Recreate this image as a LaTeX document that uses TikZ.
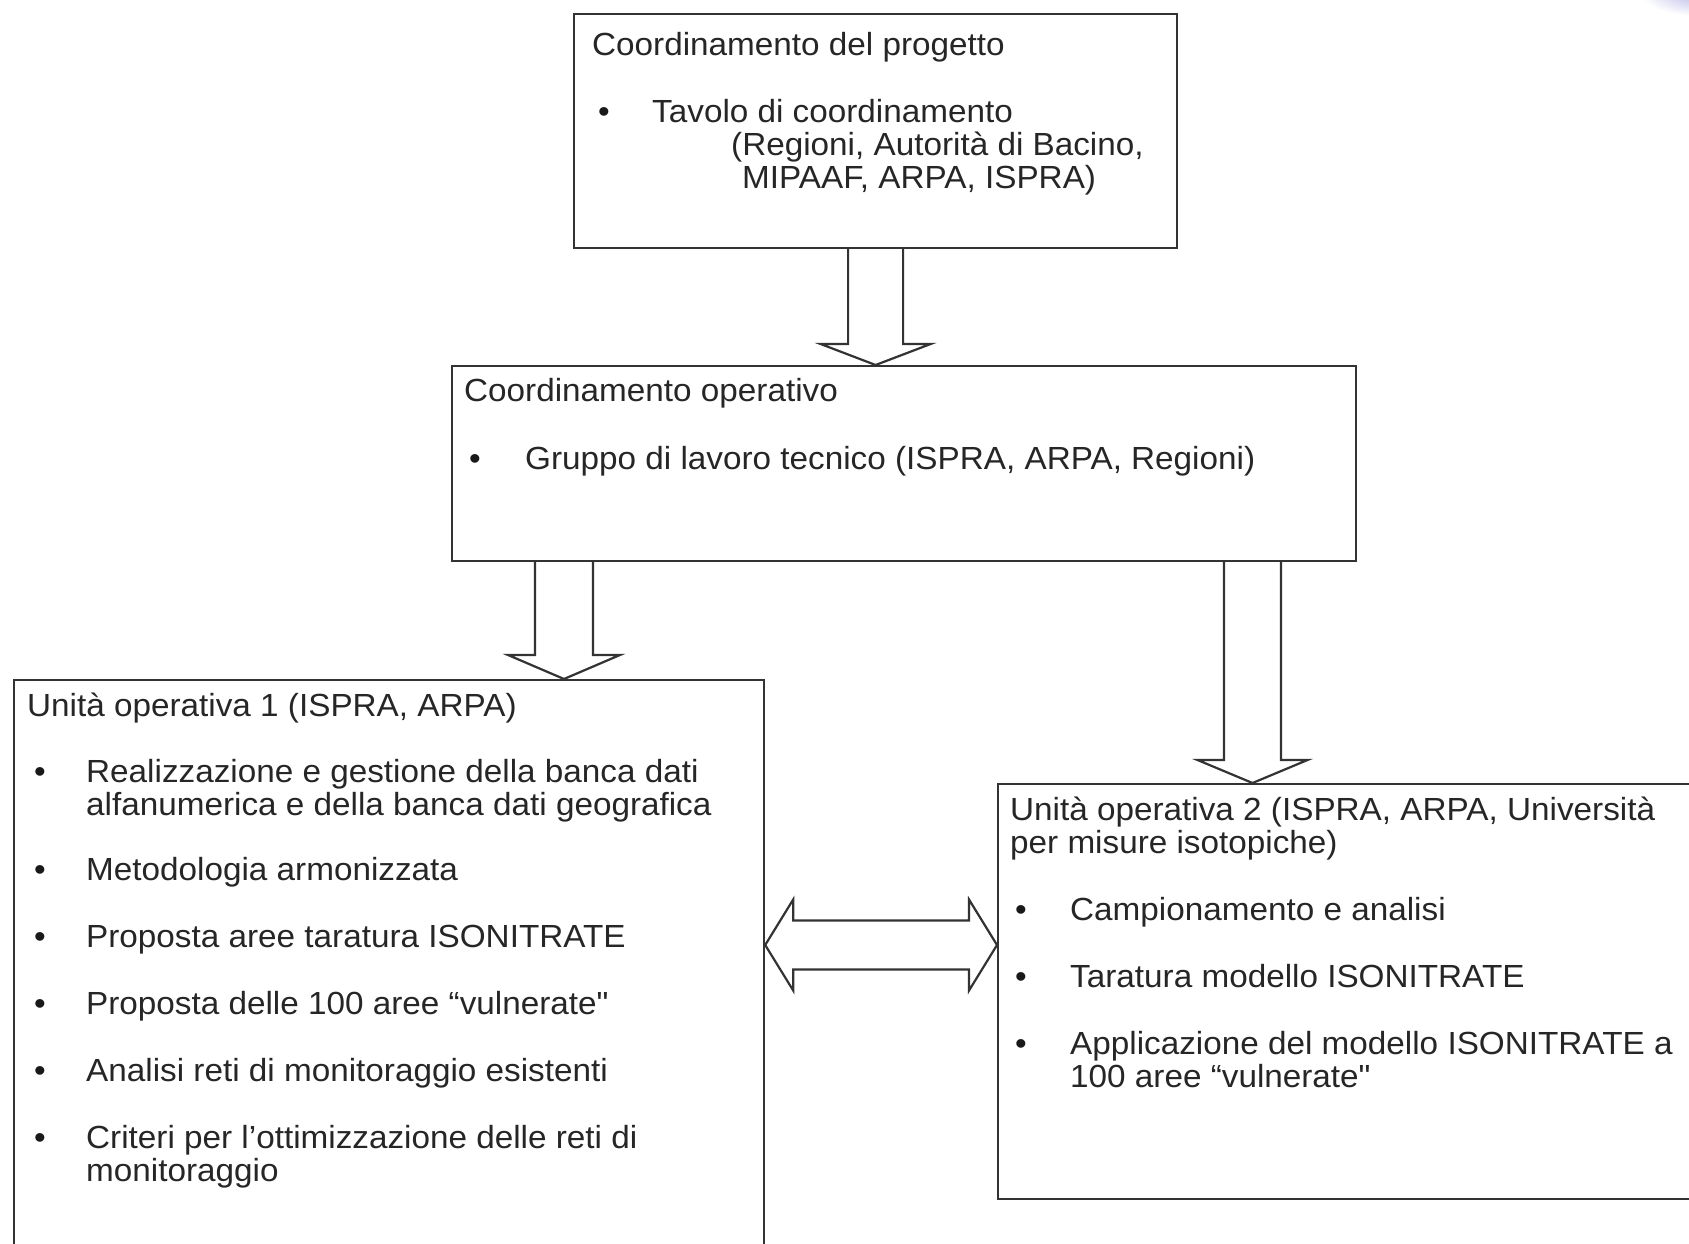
\documentclass[tikz,border=0pt]{standalone}
\usepackage{fontspec}
\setmainfont{Liberation Sans}[Ligatures=TeXOff, FakeStretch=1.04]
\usetikzlibrary{calc}
\newcommand\dgfs{\fontsize{32}{33.4}\selectfont}
\begin{document}
\begin{tikzpicture}[x=1pt,y=-1pt,
  box/.style={draw=black!80, line width=2.2pt, inner sep=0pt, anchor=north west},
  barrow/.style={draw=black!80, line width=2.2pt, line join=miter},
  txt/.style={anchor=base west, inner sep=0pt, text=black!85, font=\dgfs},
  bul/.style={anchor=base west, inner sep=0pt, text=black!90, font=\dgfs}]
\useasboundingbox (0,0) rectangle (1689,1243);
\clip (0,0) rectangle (1689,1243);
\fill[white] (0,0) rectangle (1689,1243);
\shade[inner color=black!35!blue!30, outer color=white] (1700,-8) ellipse (60 and 24);

% boxes
\node[box, minimum width=603pt, minimum height=234pt] (top) at (573,13) {};
\node[box, minimum width=904pt, minimum height=195pt] (mid) at (451,365) {};
\node[box, minimum width=750pt, minimum height=640pt] (u1) at (13,679) {};
\node[box, minimum width=740pt, minimum height=415pt] (u2) at (997,783) {};

% block arrows
\draw[barrow] let \p1=(top.south), \p2=(mid.north) in
  (\x1-27.5pt,\y1) -- (\x1-27.5pt,\y2+21pt) -- (\x1-55pt,\y2+21pt) -- (\x1,\y2)
  -- (\x1+55pt,\y2+21pt) -- (\x1+27.5pt,\y2+21pt) -- (\x1+27.5pt,\y1);
\draw[barrow] let \p1=(mid.south), \p2=(u1.north), \p3=(564,0) in
  (\x3-29pt,\y1) -- (\x3-29pt,\y2+24pt) -- (\x3-56pt,\y2+24pt) -- (\x3,\y2)
  -- (\x3+56pt,\y2+24pt) -- (\x3+29pt,\y2+24pt) -- (\x3+29pt,\y1);
\draw[barrow] let \p1=(mid.south), \p2=(u2.north), \p3=(1252.5,0) in
  (\x3-28.5pt,\y1) -- (\x3-28.5pt,\y2+23pt) -- (\x3-55pt,\y2+23pt) -- (\x3,\y2)
  -- (\x3+55pt,\y2+23pt) -- (\x3+28.5pt,\y2+23pt) -- (\x3+28.5pt,\y1);
\draw[barrow] let \p1=(u1.east), \p2=(u2.west), \p3=(0,945) in
  (\x1,\y3) -- (\x1+28pt,\y3+45.5pt) -- (\x1+28pt,\y3+24.5pt) -- (\x2-28pt,\y3+24.5pt)
  -- (\x2-28pt,\y3+45.5pt) -- (\x2,\y3) -- (\x2-28pt,\y3-45.5pt) -- (\x2-28pt,\y3-24.5pt)
  -- (\x1+28pt,\y3-24.5pt) -- (\x1+28pt,\y3-45.5pt) -- cycle;

% top box text
\node[txt] (t1) at (592,55) {Coordinamento del progetto};
\node[bul] (b1) at (598,122) {•};
\node[txt] (t2) at (652,122) {Tavolo di coordinamento};
\node[txt] (t3) at (731,155.4) {(Regioni, Autorità di Bacino,};
\node[txt] (t4) at (742,188.8) {MIPAAF, ARPA, ISPRA)};

% middle box text
\node[txt] (m1) at (464,401) {Coordinamento operativo};
\node[bul] (mb1) at (469,469) {•};
\node[txt] (m2) at (525,469) {Gruppo di lavoro tecnico (ISPRA, ARPA, Regioni)};

% unit 1 text
\node[txt] (a0) at (27,716) {Unità operativa 1 (ISPRA, ARPA)};
\foreach \yy in {782,880,947,1014,1081,1148}
  \node[bul] at (34,\yy) {•};
\node[txt] (a1) at (86,782) {Realizzazione e gestione della banca dati};
\node[txt] (a1b) at (86,815.4) {alfanumerica e della banca dati geografica};
\node[txt] (a2) at (86,880) {Metodologia armonizzata};
\node[txt] (a3) at (86,947) {Proposta aree taratura ISONITRATE};
\node[txt] (a4) at (86,1014) {Proposta delle 100 aree “vulnerate"};
\node[txt] (a5) at (86,1081) {Analisi reti di monitoraggio esistenti};
\node[txt] (a6) at (86,1148) {Criteri per l’ottimizzazione delle reti di};
\node[txt] (a6b) at (86,1181.4) {monitoraggio};

% unit 2 text
\node[txt] (c0) at (1010,820) {Unità operativa 2 (ISPRA, ARPA, Università};
\node[txt] (c0b) at (1010,853.4) {per misure isotopiche)};
\foreach \yy in {920,987,1054}
  \node[bul] at (1015,\yy) {•};
\node[txt] (c1) at (1070,920) {Campionamento e analisi};
\node[txt] (c2) at (1070,987) {Taratura modello ISONITRATE};
\node[txt] (c3) at (1070,1054) {Applicazione del modello ISONITRATE a};
\node[txt] (c3b) at (1070,1087.4) {100 aree “vulnerate"};
\end{tikzpicture}
\end{document}
